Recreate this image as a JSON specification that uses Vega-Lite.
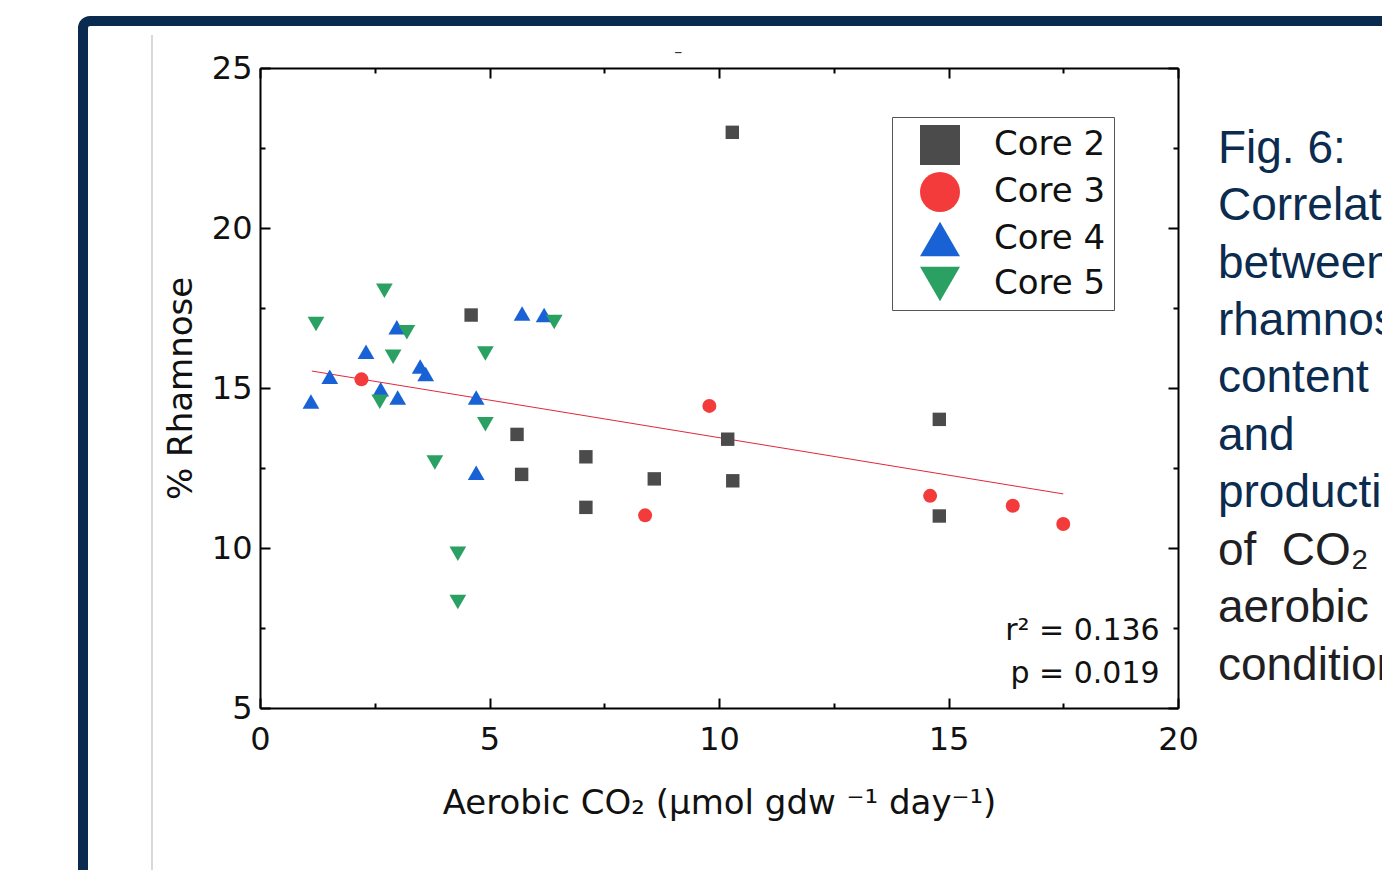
{
  "$schema": "https://vega.github.io/schema/vega-lite/v6.json",
  "width": 918,
  "height": 640,
  "autosize": {"type": "none"},
  "padding": {"left": 260, "top": 68, "right": 204, "bottom": 162},
  "background": "white",
  "config": {"font": "DejaVu Sans", "view": {"stroke": null}},
  "datasets": {
    "points": [
      {"core": "Core 2", "co2": 10.29, "rham": 22.99},
      {"core": "Core 2", "co2": 4.6, "rham": 17.28},
      {"core": "Core 2", "co2": 5.6, "rham": 13.55},
      {"core": "Core 2", "co2": 5.7, "rham": 12.3},
      {"core": "Core 2", "co2": 7.1, "rham": 12.85},
      {"core": "Core 2", "co2": 7.1, "rham": 11.27},
      {"core": "Core 2", "co2": 8.59, "rham": 12.16},
      {"core": "Core 2", "co2": 10.19, "rham": 13.4},
      {"core": "Core 2", "co2": 10.3, "rham": 12.1},
      {"core": "Core 2", "co2": 14.8, "rham": 14.02},
      {"core": "Core 2", "co2": 14.8, "rham": 11.0},
      {"core": "Core 3", "co2": 2.21, "rham": 15.27},
      {"core": "Core 3", "co2": 9.79, "rham": 14.44},
      {"core": "Core 3", "co2": 8.39, "rham": 11.02},
      {"core": "Core 3", "co2": 14.6, "rham": 11.63},
      {"core": "Core 3", "co2": 16.4, "rham": 11.32},
      {"core": "Core 3", "co2": 17.5, "rham": 10.75},
      {"core": "Core 4", "co2": 1.11, "rham": 14.58},
      {"core": "Core 4", "co2": 1.52, "rham": 15.35},
      {"core": "Core 4", "co2": 2.31, "rham": 16.13},
      {"core": "Core 4", "co2": 2.98, "rham": 16.9},
      {"core": "Core 4", "co2": 2.63, "rham": 14.96},
      {"core": "Core 4", "co2": 3.0, "rham": 14.7},
      {"core": "Core 4", "co2": 3.49, "rham": 15.67},
      {"core": "Core 4", "co2": 3.61, "rham": 15.44},
      {"core": "Core 4", "co2": 4.71, "rham": 14.7},
      {"core": "Core 4", "co2": 4.71, "rham": 12.35},
      {"core": "Core 4", "co2": 5.71, "rham": 17.33},
      {"core": "Core 4", "co2": 6.19, "rham": 17.28},
      {"core": "Core 5", "co2": 2.71, "rham": 18.04},
      {"core": "Core 5", "co2": 1.22, "rham": 17.0},
      {"core": "Core 5", "co2": 3.2, "rham": 16.74},
      {"core": "Core 5", "co2": 2.9, "rham": 15.98},
      {"core": "Core 5", "co2": 2.61, "rham": 14.57},
      {"core": "Core 5", "co2": 4.91, "rham": 16.08},
      {"core": "Core 5", "co2": 4.91, "rham": 13.87},
      {"core": "Core 5", "co2": 3.81, "rham": 12.67},
      {"core": "Core 5", "co2": 4.31, "rham": 9.82},
      {"core": "Core 5", "co2": 4.31, "rham": 8.31},
      {"core": "Core 5", "co2": 6.41, "rham": 17.06}
    ],
    "fit": [
      {"co2": 1.13, "rham": 15.53},
      {"co2": 17.5, "rham": 11.69}
    ],
    "frame": [{"x": -3.856, "x2": 25, "y": 26.47, "y2": -1}],
    "sep": [{"x": -2.353, "y": 26.03, "y2": -1}],
    "stats": [
      {"label": "r² = 0.136", "x": 19.6, "y": 7.12},
      {"label": "p = 0.019", "x": 19.6, "y": 5.78}
    ],
    "dash": [{"label": "–", "x": 9.11, "y": 25.5}],
    "caption_navy": [
      {"line": "Fig. 6:", "x": 20.87, "y": 22.03},
      {"line": "Correlation", "x": 20.87, "y": 20.24},
      {"line": "between", "x": 20.87, "y": 18.44},
      {"line": "rhamnose", "x": 20.87, "y": 16.65},
      {"line": "content", "x": 20.87, "y": 14.86},
      {"line": "and", "x": 20.87, "y": 13.06},
      {"line": "production", "x": 20.87, "y": 11.27}
    ],
    "caption_dark": [
      {"line": "of\u00a0\u00a0CO₂", "x": 20.87, "y": 9.475},
      {"line": "aerobic", "x": 20.87, "y": 7.68},
      {"line": "conditions", "x": 20.87, "y": 5.89}
    ]
  },
  "layer": [
    {
      "data": {"name": "frame"},
      "mark": {"type": "rect", "fillOpacity": 0, "stroke": "#0a2b4f", "strokeWidth": 10, "cornerRadius": 7, "clip": false},
      "encoding": {
        "x": {"field": "x", "type": "quantitative", "scale": {"domain": [0, 20], "nice": false, "zero": false}, "axis": null},
        "x2": {"field": "x2"},
        "y": {"field": "y", "type": "quantitative", "scale": {"domain": [5, 25], "nice": false, "zero": false}, "axis": null},
        "y2": {"field": "y2"}
      }
    },
    {
      "data": {"name": "sep"},
      "mark": {"type": "rule", "stroke": "#cccccc", "strokeWidth": 1.5, "clip": false},
      "encoding": {
        "x": {"field": "x", "type": "quantitative", "scale": {"domain": [0, 20], "nice": false, "zero": false}, "axis": null},
        "y": {"field": "y", "type": "quantitative", "scale": {"domain": [5, 25], "nice": false, "zero": false}, "axis": null},
        "y2": {"field": "y2"}
      }
    },
    {
      "data": {"name": "fit"},
      "mark": {"type": "line", "stroke": "#e0283a", "strokeWidth": 1},
      "encoding": {
        "x": {"field": "co2", "type": "quantitative", "scale": {"domain": [0, 20], "nice": false, "zero": false},
          "axis": {"orient": "top", "values": [0, 2.5, 5, 7.5, 10, 12.5, 15, 17.5, 20], "labels": false, "title": null, "grid": false,
            "domainColor": "black", "domainWidth": 2, "tickColor": "black", "tickWidth": 2,
            "tickSize": {"condition": {"test": "datum.value % 5 === 0", "value": -10}, "value": -5}}},
        "y": {"field": "rham", "type": "quantitative", "scale": {"domain": [5, 25], "nice": false, "zero": false},
          "axis": {"orient": "right", "values": [5, 7.5, 10, 12.5, 15, 17.5, 20, 22.5, 25], "labels": false, "title": null, "grid": false,
            "domainColor": "black", "domainWidth": 2, "tickColor": "black", "tickWidth": 2,
            "tickSize": {"condition": {"test": "datum.value % 5 === 0", "value": -10}, "value": -5}}}
      }
    },
    {
      "data": {"name": "points"},
      "mark": {"type": "point", "filled": true, "opacity": 1,
        "size": {"expr": "datum.core === 'Core 2' ? 180 : datum.core === 'Core 3' ? 196 : 280"}},
      "encoding": {
        "x": {"field": "co2", "type": "quantitative", "scale": {"domain": [0, 20], "nice": false, "zero": false},
          "axis": {"orient": "bottom", "values": [0, 2.5, 5, 7.5, 10, 12.5, 15, 17.5, 20],
            "labelExpr": "datum.value % 5 === 0 ? datum.label : ''", "labelOverlap": false, "labelFlush": false,
            "labelFontSize": 32, "labelColor": "#111111", "labelPadding": 26,
            "title": "Aerobic CO₂ (μmol gdw ⁻¹ day⁻¹)", "titleFontSize": 34, "titleFontWeight": "normal", "titleColor": "#111111", "titlePadding": 26,
            "grid": false, "domainColor": "black", "domainWidth": 2, "tickColor": "black", "tickWidth": 2,
            "tickSize": {"condition": {"test": "datum.value % 5 === 0", "value": -10}, "value": -5}}},
        "y": {"field": "rham", "type": "quantitative", "scale": {"domain": [5, 25], "nice": false, "zero": false},
          "axis": {"orient": "left", "values": [5, 7.5, 10, 12.5, 15, 17.5, 20, 22.5, 25],
            "labelExpr": "datum.value % 5 === 0 ? datum.label : ''", "labelOverlap": false,
            "labelFontSize": 32, "labelColor": "#111111", "labelPadding": 18,
            "title": "% Rhamnose", "titleFontSize": 34, "titleFontWeight": "normal", "titleColor": "#111111", "titlePadding": 13,
            "grid": false, "domainColor": "black", "domainWidth": 2, "tickColor": "black", "tickWidth": 2,
            "tickSize": {"condition": {"test": "datum.value % 5 === 0", "value": -10}, "value": -5}}},
        "color": {"field": "core", "type": "nominal",
          "scale": {"domain": ["Core 2", "Core 3", "Core 4", "Core 5"], "range": ["#4b4b4b", "#f43b3b", "#1862d6", "#2aa062"]},
          "legend": {"orient": "none", "legendX": 632, "legendY": 49, "title": null,
            "strokeColor": "#555555", "fillColor": "white", "padding": 8,
            "labelFontSize": 34, "labelColor": "#111111", "labelFont": "DejaVu Sans",
            "symbolSize": 1600, "symbolOffset": 20, "labelOffset": 34, "rowPadding": 7,
            "symbolStrokeWidth": 0,
            "encode": {"symbols": {"update": {"size": {"signal": "datum.value === 'Core 2' ? 784 : datum.value === 'Core 3' ? 1089 : 1600"}}}}}},
        "shape": {"field": "core", "type": "nominal",
          "scale": {"domain": ["Core 2", "Core 3", "Core 4", "Core 5"], "range": ["square", "circle", "triangle-up", "triangle-down"]}}
      }
    },
    {
      "data": {"name": "stats"},
      "mark": {"type": "text", "align": "right", "baseline": "alphabetic", "fontSize": 30, "color": "#111111", "clip": false},
      "encoding": {
        "x": {"field": "x", "type": "quantitative", "scale": {"domain": [0, 20], "nice": false, "zero": false}, "axis": null},
        "y": {"field": "y", "type": "quantitative", "scale": {"domain": [5, 25], "nice": false, "zero": false}, "axis": null},
        "text": {"field": "label"}
      }
    },
    {
      "data": {"name": "dash"},
      "mark": {"type": "text", "align": "center", "baseline": "middle", "fontSize": 16, "color": "#333333", "clip": false},
      "encoding": {
        "x": {"field": "x", "type": "quantitative", "scale": {"domain": [0, 20], "nice": false, "zero": false}, "axis": null},
        "y": {"field": "y", "type": "quantitative", "scale": {"domain": [5, 25], "nice": false, "zero": false}, "axis": null},
        "text": {"field": "label"}
      }
    },
    {
      "data": {"name": "caption_navy"},
      "mark": {"type": "text", "align": "left", "baseline": "alphabetic", "font": "Liberation Sans", "fontSize": 46, "color": "#0b2b4f", "clip": false},
      "encoding": {
        "x": {"field": "x", "type": "quantitative", "scale": {"domain": [0, 20], "nice": false, "zero": false}, "axis": null},
        "y": {"field": "y", "type": "quantitative", "scale": {"domain": [5, 25], "nice": false, "zero": false}, "axis": null},
        "text": {"field": "line"}
      }
    },
    {
      "data": {"name": "caption_dark"},
      "mark": {"type": "text", "align": "left", "baseline": "alphabetic", "font": "Liberation Sans", "fontSize": 46, "color": "#1f1f24", "clip": false},
      "encoding": {
        "x": {"field": "x", "type": "quantitative", "scale": {"domain": [0, 20], "nice": false, "zero": false}, "axis": null},
        "y": {"field": "y", "type": "quantitative", "scale": {"domain": [5, 25], "nice": false, "zero": false}, "axis": null},
        "text": {"field": "line"}
      }
    }
  ],
  "resolve": {"axis": {"x": "independent", "y": "independent"}}
}
